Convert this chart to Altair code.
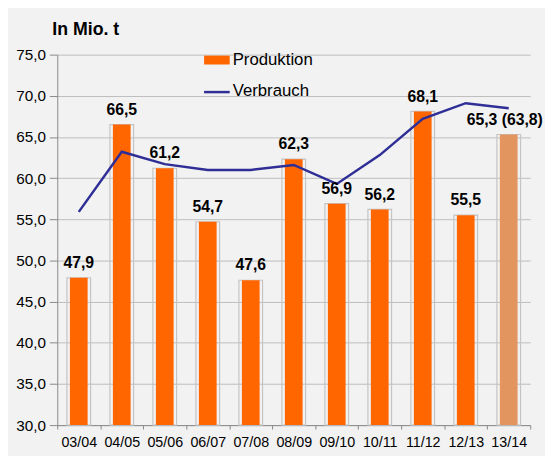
import altair as alt
import pandas as pd

seasons = ["03/04", "04/05", "05/06", "06/07", "07/08", "08/09", "09/10", "10/11", "11/12", "12/13", "13/14"]
produktion = [47.9, 66.5, 61.2, 54.7, 47.6, 62.3, 56.9, 56.2, 68.1, 55.5, 65.3]
verbrauch = [55.9, 63.2, 61.7, 61.0, 61.0, 61.6, 59.3, 62.8, 67.2, 69.1, 68.5]
labels = ["47,9", "66,5", "61,2", "54,7", "47,6", "62,3", "56,9", "56,2", "68,1", "55,5", "65,3 (63,8)"]
kind = ["ist"] * 10 + ["prognose"]

df = pd.DataFrame({"Saison": seasons, "Produktion": produktion, "Verbrauch": verbrauch,
                   "Label": labels, "Art": kind})

FONT = "Liberation Sans"

x = alt.X("Saison:N", sort=seasons, title=None,
          scale=alt.Scale(paddingInner=0, paddingOuter=0),
          axis=alt.Axis(tickBand="extent", labelAngle=0, labelFontSize=14.5, labelFont=FONT,
                        labelColor="#000000", tickSize=4, tickColor="#888888",
                        domainColor="#888888", labelPadding=7, grid=False))
yscale = alt.Scale(domain=[30, 75], nice=False, zero=False)
yaxis = alt.Axis(values=[30, 35, 40, 45, 50, 55, 60, 65, 70, 75],
                 labelExpr="replace(format(datum.value, '.1f'), '.', ',')",
                 labelFontSize=15.5, labelFont=FONT, labelColor="#000000",
                 tickSize=8, tickColor="#888888", domainColor="#888888",
                 gridColor="#bdbdbd", labelPadding=4, title=None)

base = alt.Chart(df)

frame = base.mark_bar(size=24, fill="transparent", stroke="#c4c4c4", strokeWidth=1.2).encode(
    x=x, y=alt.Y("Produktion:Q", scale=yscale, axis=yaxis), y2=alt.datum(30))

bars = base.mark_bar(size=18).encode(
    x=x, y=alt.Y("Produktion:Q", scale=yscale), y2=alt.datum(30),
    color=alt.Color("Art:N", scale=alt.Scale(domain=["ist", "prognose"], range=["#ff6600", "#e3955f"]),
                    legend=None))

line = base.mark_line(color="#2e2e96", strokeWidth=2.5).encode(
    x=x, y=alt.Y("Verbrauch:Q", scale=yscale))

text = base.transform_filter(alt.datum.Art == "ist").mark_text(
    dy=-15, fontSize=16, fontWeight="bold", font=FONT, color="#000000", baseline="middle").encode(
    x=x, y=alt.Y("Produktion:Q", scale=yscale), text="Label:N")

text_last = base.transform_filter(alt.datum.Art == "prognose").mark_text(
    dy=-15, dx=-4, fontSize=16, fontWeight="bold", font=FONT, color="#000000", baseline="middle").encode(
    x=x, y=alt.Y("Produktion:Q", scale=yscale), text="Label:N")

leg = alt.Chart(pd.DataFrame({"k": ["Produktion"]}))
leg_rect = leg.mark_rect(color="#ff6600").encode(
    x=alt.value(149), x2=alt.value(175), y=alt.value(1), y2=alt.value(10))
leg_text1 = leg.mark_text(align="left", baseline="middle", fontSize=17, font=FONT, color="#000000").encode(
    x=alt.value(178), y=alt.value(6), text=alt.value("Produktion"))
leg_line = leg.mark_rule(color="#2e2e96", strokeWidth=2.5).encode(
    x=alt.value(149), x2=alt.value(175), y=alt.value(38))
leg_text2 = leg.mark_text(align="left", baseline="middle", fontSize=17, font=FONT, color="#000000").encode(
    x=alt.value(178), y=alt.value(37), text=alt.value("Verbrauch"))
title = leg.mark_text(align="left", baseline="alphabetic", fontSize=18, fontWeight="bold", font=FONT,
                      color="#000000").encode(
    x=alt.value(-5), y=alt.value(-20), text=alt.value("In Mio. t"))

chart = alt.layer(frame, bars, line, text, text_last, leg_rect, leg_text1, leg_line, leg_text2, title).properties(
    width=480, height=376,
    autosize=alt.AutoSizeParams(type="none"),
    padding={"left": 50, "top": 44, "right": 15, "bottom": 28},
    background="#f2f2f2",
).configure_view(stroke=None)

chart.save("out.html", embed_options={"renderer": "svg", "actions": False})
